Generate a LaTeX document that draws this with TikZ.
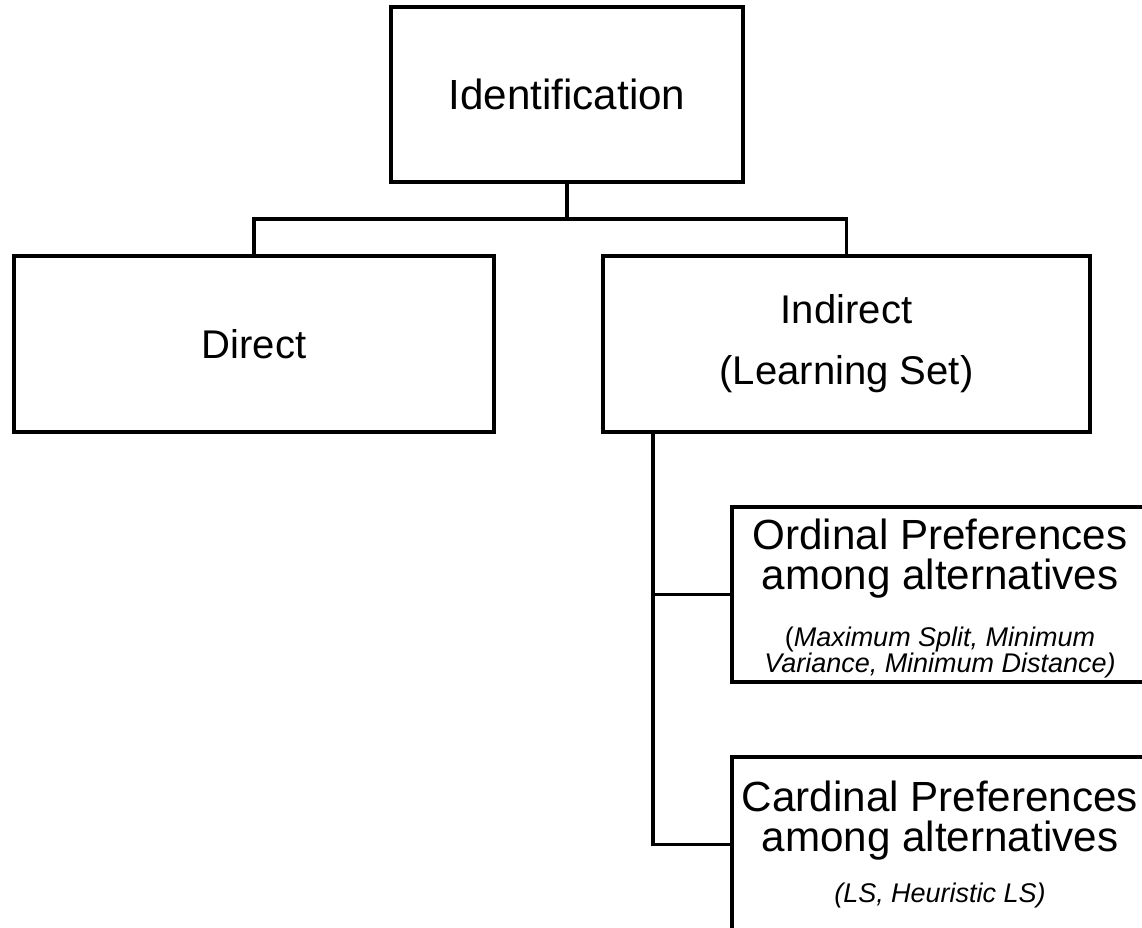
\documentclass[tikz,border=0pt]{standalone}
\usepackage{fontspec}
\setmainfont{Liberation Sans}
\newcommand\smalltxt{\fontsize{19.2}{15.6}\selectfont}

\begin{document}
\begin{tikzpicture}[
  every node/.style={font=\fontsize{30}{28.4}\selectfont},
  box/.style={draw,line width=2.3pt,inner sep=0pt,align=center},
  mid/.style={font=\fontsize{28.5}{28.4}\selectfont},
  link/.style={line width=2.3pt}
]
\useasboundingbox (0,0) rectangle (28.55,-23.175);

% top level
\node[box,minimum width=8.8cm,minimum height=4.375cm] (ident) at (14.175,-2.3625) {Identification};

% second level
\node[box,mid,minimum width=12cm,minimum height=4.4cm] (direct) at (6.35,-8.6) {Direct};
\node[box,mid,minimum width=12.175cm,minimum height=4.4cm] (indirect) at (21.1625,-8.6)
  {Indirect\\[15pt](Learning Set)};

% learning set
\node[box,minimum width=10.4cm,minimum height=4.375cm] (ordinal) at (23.5,-14.8625)
  {\rule{0pt}{28pt}Ordinal Preferences\\among alternatives\\[12pt]\smalltxt(\itshape Maximum Split, Minimum\\[-9.6pt]
   \smalltxt\itshape Variance, Minimum Distance)};
\node[box,minimum width=10.4cm,minimum height=4.375cm] (cardinal) at (23.5,-21.1125)
  {Cardinal Preferences\\among alternatives\\[8pt]\smalltxt\itshape (LS, Heuristic LS)};

% connectors
\coordinate (bus) at (14.175,-5.475);
\coordinate (trunk) at (16.325,-10.8);
\draw[link] (ident.south) -- (bus);
\draw[link] (direct.north) |- (bus) -| (indirect.north);
\draw[link] (indirect.south -| trunk) |- (cardinal.west);
\draw[link] (trunk |- ordinal.west) -- (ordinal.west);
\end{tikzpicture}
\end{document}
